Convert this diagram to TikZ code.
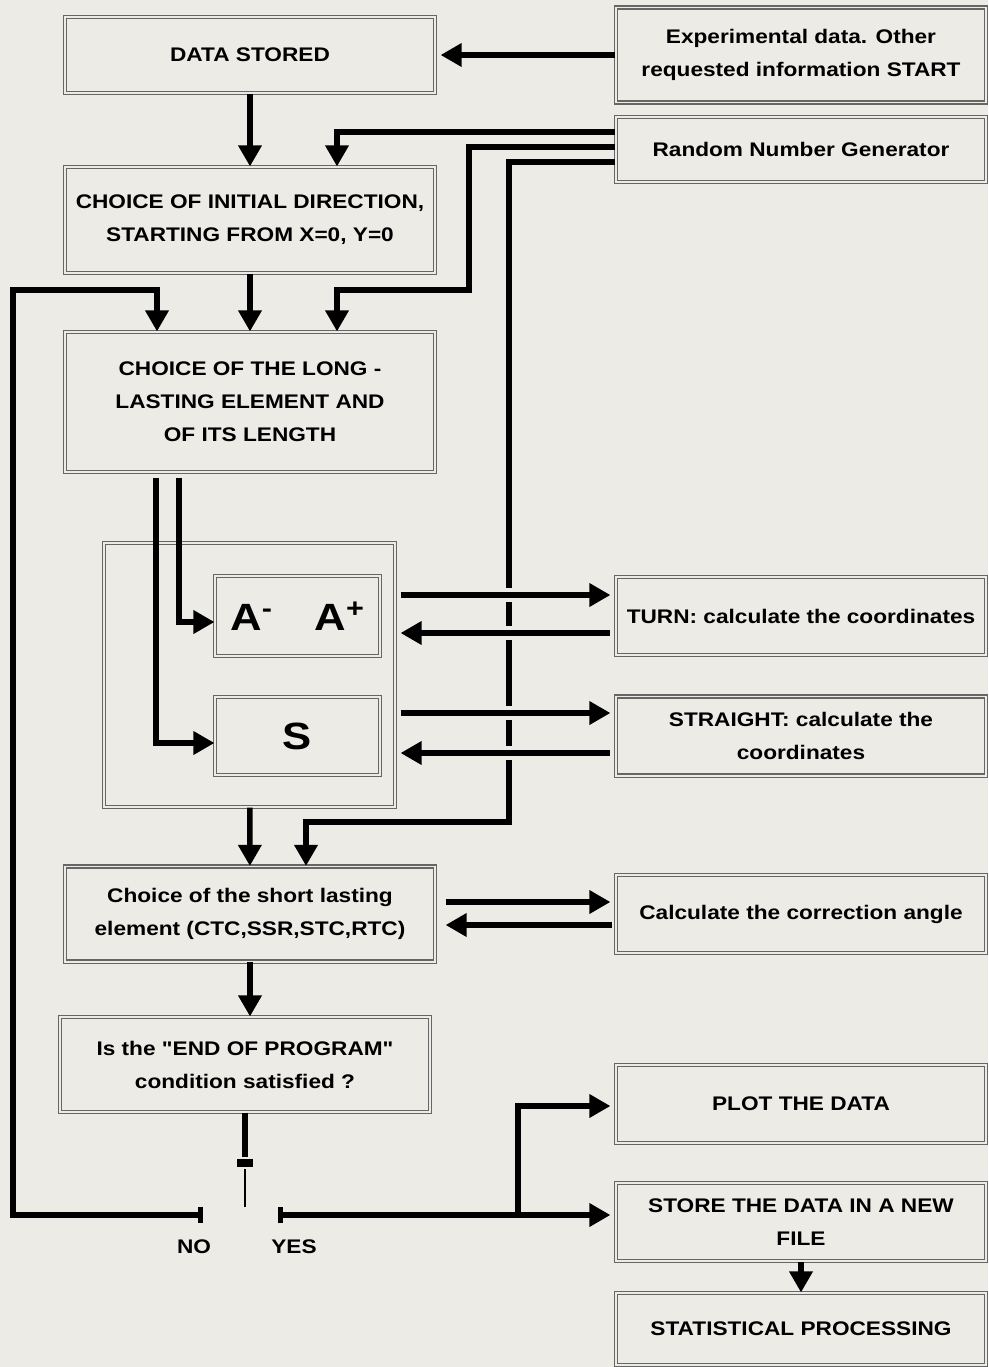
\documentclass[tikz,border=0pt]{standalone}
\usepackage{fontspec}
\newfontfamily\boxfont[FakeStretch=1.15]{Liberation Sans}
\usetikzlibrary{calc}
\usetikzlibrary{arrows.meta}
\definecolor{paper}{RGB}{236,235,230}

\begin{document}
\begin{tikzpicture}[
	x=0.025cm, y=-0.025cm,
	>={Triangle[width=16pt,length=15pt]},
	line width=3.9pt,
	box/.style={
		draw=black!60, % thin double rule round each box
		double=paper,
		double distance=1.4pt,
		line width=0.75pt,
		fill=paper,
		align=center,
		inner sep=2pt,
		minimum width=9.25cm,
		font=\boxfont\bfseries\fontsize{14}{23.5}\selectfont,
	},
	big/.style={font=\boxfont\bfseries\fontsize{27}{29}\selectfont},
	gap/.style={preaction={draw=paper,line width=10pt,-}},
	lbl/.style={font=\boxfont\bfseries\fontsize{14}{16}\selectfont},
]
	\fill[paper] (0,0) rectangle (988,1367);
	\useasboundingbox (0,0) rectangle (988,1367);

	% left column
	\node[box, minimum height=1.9cm] (stored) at (250,55) {DATA STORED};
	\node[box, minimum height=2.65cm] (initdir) at (250,220)
		{CHOICE OF INITIAL DIRECTION,\\ STARTING FROM X=0, Y=0};
	\node[box, minimum height=3.5cm] (longel) at (250,402)
		{CHOICE OF THE LONG -\\ LASTING ELEMENT AND\\ OF ITS LENGTH};
	\node[box, minimum width=7.275cm, minimum height=6.6cm] (elems) at (249.5,675) {};
	\node[box, big, minimum width=4.125cm, minimum height=2cm] (amp) at (297.5,616)
		{A\textsuperscript{-}\hspace{1.1em}A\textsuperscript{+}};
	\node[box, big, minimum width=4.125cm, minimum height=1.95cm] (sbox) at (297.5,736) {S};
	\node[box, minimum height=2.375cm] (shortel) at (250,914)
		{Choice of the short lasting\\ element (CTC,SSR,STC,RTC)};
	\node[box, minimum height=2.375cm] (endprog) at (245,1064.5)
		{Is the "END OF PROGRAM"\\ condition satisfied ?};

	% right column
	\node[box, minimum height=2.375cm] (expdata) at (801,55)
		{Experimental data. Other\\ requested information START};
	\node[box, minimum height=1.625cm] (rng) at (801,149.5) {Random Number Generator};
	\node[box, minimum height=1.95cm] (turn) at (801,616) {TURN: calculate the coordinates};
	\node[box, minimum height=1.975cm] (straight) at (801,736)
		{STRAIGHT: calculate the\\ coordinates};
	\node[box, minimum height=1.95cm] (correct) at (801,914) {Calculate the correction angle};
	\node[box, minimum height=1.95cm] (plot) at (801,1104) {PLOT THE DATA};
	\node[box, minimum height=1.95cm] (store) at (801,1222)
		{STORE THE DATA IN A NEW\\ FILE};
	\node[box, minimum height=1.8cm] (stat) at (801,1329) {STATISTICAL PROCESSING};

	% random numbers fed to three steps
	\draw[->] ($(rng.west)+(0,-17.5)$) -| ($(initdir.north)+(87,0)$);
	\draw[->] ($(rng.west)+(0,-2.5)$) -| (469,290) -| ($(longel.north)+(87,0)$);
	\draw[->] ($(rng.west)+(0,12.5)$) -| (509,822) -| ($(shortel.north)+(56,0)$);

	% main flow
	\draw[->] (expdata.west) -- ($(stored.east)+(5,0)$);
	\draw[->] (stored) -- (initdir);
	\draw[->] (initdir) -- (longel);
	\draw[->] ($(longel.south)+(-71,5)$) |- ($(amp.west)+(0,6)$);
	\draw[->] ($(longel.south)+(-94,5)$) |- ($(sbox.west)+(0,7)$);
	\foreach \a/\b/\u/\d in {amp/turn/-21/17, sbox/straight/-23/17}{
		\draw[->,gap] ($(\a.east)+(20,\u)$) -- ($(\b.west)+(-5,\u)$);
		\draw[<-,gap] ($(\a.east)+(20,\d)$) -- ($(\b.west)+(-5,\d)$);
	}
	\draw[->] (elems) -- (shortel);
	\draw[->] ($(shortel.east)+(10,-12)$) -- ($(correct.west)+(-5,-12)$);
	\draw[<-] ($(shortel.east)+(10,11)$) -- ($(correct.west)+(-3,11)$);
	\draw[->] (shortel.south) -- (shortel.south |- endprog.north);

	% end-of-program switch
	\node[fill=black, inner sep=0pt, minimum width=12pt, minimum height=5pt] (pivot) at (245,1163) {};
	\coordinate (lever) at (245,1207);
	\coordinate (no) at (203,1215);
	\coordinate (yes) at (278,1215);
	\coordinate (fork) at (518,1215);
	\draw (endprog.south) -- (pivot);
	\draw[line width=1.8pt] (pivot) -- (lever);
	\draw[{Bar[width=12pt]}->] (no) -| (13,290) -| ($(longel.north)+(-93,0)$);
	\draw[{Bar[width=12pt]}->] (yes) -- ($(store.west)+(-5,-7)$);
	\draw[->] (fork) |- ($(plot.west)+(-5,2)$);
	\draw[->] (store) -- (stat);
	\node[lbl] (nolbl) at (194,1247) {NO};
	\node[lbl] (yeslbl) at (294,1247) {YES};

\end{tikzpicture}
\end{document}
